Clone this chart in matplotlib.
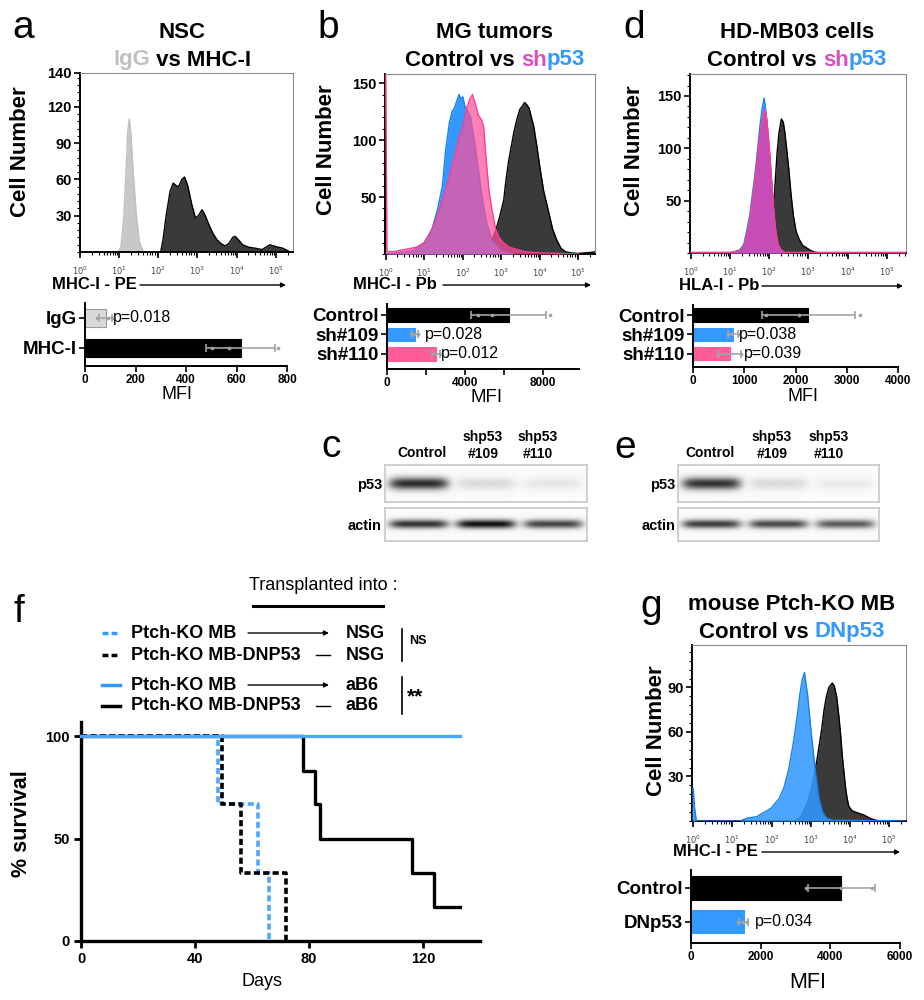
import numpy as np
import matplotlib
matplotlib.use('Agg')
import matplotlib.pyplot as plt
from matplotlib.patches import FancyArrowPatch
from matplotlib.lines import Line2D
from matplotlib.ticker import (FixedLocator, MultipleLocator, LogLocator,
                               FuncFormatter, NullFormatter)

plt.rcParams['font.family'] = ['Liberation Sans', 'DejaVu Sans']

# ---------------------------------------------------------------- data
# flow histograms: (log10 fluorescence, cell number)
a_igg_x = [0.98, 1.05, 1.12, 1.18, 1.22, 1.26, 1.30, 1.36, 1.44, 1.52, 1.62]
a_igg_y = [0, 5, 30, 70, 100, 110, 98, 65, 30, 8, 0]
a_mhc_x = [2.06, 2.12, 2.2, 2.3, 2.38, 2.45, 2.52, 2.6, 2.67, 2.75, 2.85, 2.95, 3.02,
           3.12, 3.2, 3.3, 3.4, 3.5, 3.6, 3.7, 3.8, 3.9, 3.96, 4.05, 4.15, 4.3,
           4.5, 4.65, 4.75, 4.85, 4.95, 5.05, 5.15, 5.25, 5.37]
a_mhc_y = [0, 10, 30, 50, 57, 55, 54, 60, 62, 55, 40, 28, 30, 35, 30, 22, 15, 10, 7,
           5, 7, 12, 13, 10, 6, 4, 3, 2, 4, 6, 5, 4, 3.5, 2, 0]

b_ctrl_x = [2.5, 2.6, 2.75, 2.85, 2.95, 3.06, 3.12, 3.19, 3.26, 3.32, 3.4, 3.48, 3.55,
            3.6, 3.66, 3.72, 3.78, 3.84, 3.92, 4.0, 4.1, 4.22, 4.33, 4.44, 4.55,
            4.66, 4.8, 5.0, 5.35, 5.43]
b_ctrl_y = [0, 4, 12, 20, 32, 47, 65, 82, 95, 106, 118, 127, 130, 133, 131, 128, 120,
            112, 95, 76, 55, 38, 22, 12, 5, 2, 1, 0.5, 1.5, 2]
b_109_x = [0.0, 0.3, 0.7, 1.0, 1.2, 1.35, 1.47, 1.55, 1.65, 1.72, 1.78, 1.85, 1.9,
           1.95, 2.0, 2.05, 2.12, 2.2, 2.3, 2.4, 2.5, 2.6, 2.75, 3.0, 3.3]
b_109_y = [0, 1, 3, 10, 22, 40, 60, 90, 115, 125, 128, 135, 140, 136, 138, 130, 126,
           120, 100, 75, 50, 30, 12, 3, 0]
b_110_x = [0.0, 0.03, 0.2, 0.5, 0.8, 1.0, 1.15, 1.3, 1.45, 1.6, 1.75, 1.9, 2.0, 2.1,
           2.18, 2.25, 2.32, 2.4, 2.48, 2.54, 2.6, 2.68, 2.76, 2.85, 2.95, 3.05,
           3.2, 3.4, 3.6, 4.0, 4.5, 5.0]
b_110_y = [160, 2, 2, 4, 6, 10, 18, 30, 45, 62, 82, 102, 112, 128, 136, 140, 132, 122,
           118, 112, 85, 55, 38, 22, 14, 10, 6, 4, 2, 1, 0.5, 0]

d_ctrl_x = [1.95, 2.02, 2.08, 2.14, 2.2, 2.25, 2.31, 2.36, 2.4, 2.45, 2.5, 2.56, 2.62,
            2.69, 2.78, 2.86, 2.95, 3.03, 3.15, 3.3]
d_ctrl_y = [0, 10, 30, 60, 95, 115, 128, 125, 115, 98, 80, 55, 35, 20, 12, 7, 5, 3, 1, 0]
d_109_x = [1.0, 1.25, 1.35, 1.42, 1.5, 1.55, 1.62, 1.68, 1.72, 1.76, 1.82, 1.87, 1.9,
           1.94, 1.97, 2.02, 2.06, 2.1, 2.14, 2.18, 2.23, 2.3, 2.4]
d_109_y = [0, 3, 8, 20, 35, 50, 70, 90, 105, 120, 138, 148, 140, 125, 112, 90, 70, 48,
           30, 17, 8, 3, 0]
d_110_x = [0.0, 1.0, 1.25, 1.35, 1.42, 1.5, 1.55, 1.62, 1.68, 1.74, 1.8, 1.86, 1.9,
           1.94, 1.98, 2.02, 2.06, 2.1, 2.14, 2.18, 2.23, 2.3, 2.4, 5.5]
d_110_y = [0.6, 0.6, 2, 6, 16, 30, 45, 65, 85, 105, 122, 133, 137, 128, 112, 92, 70,
           48, 30, 17, 8, 3, 0.6, 0.6]

g_ctrl_x = [2.6, 2.75, 2.91, 3.0, 3.08, 3.15, 3.21, 3.28, 3.34, 3.4, 3.46, 3.55, 3.6,
            3.66, 3.72, 3.77, 3.8, 3.85, 3.89, 3.93, 3.97, 4.05, 4.14, 4.25, 4.36,
            4.5, 4.6, 4.75]
g_ctrl_y = [0, 3, 12, 20, 30, 40, 50, 62, 75, 84, 90, 93, 91, 84, 70, 56, 45, 32, 22,
            15, 10, 7, 6, 5, 4, 2, 1, 0]
g_dn_x = [-0.03, 0.0, 0.03, 0.08, 1.2, 1.38, 1.63, 1.75, 1.89, 2.0, 2.06, 2.19, 2.31,
          2.44, 2.57, 2.65, 2.72, 2.78, 2.84, 2.88, 2.92, 2.99, 3.05, 3.12, 3.21,
          3.3, 3.4, 3.55, 5.45]
g_dn_y = [22, 22, 10, 0, 0, 2, 3, 5, 7, 9, 11, 15, 22, 35, 55, 70, 85, 95, 100, 92, 85,
          65, 50, 33, 15, 6, 2, 0.5, 0]

# MFI bar charts
a_cats = ['IgG', 'MHC-I']
a_mean = [82, 617]
a_sd = [25, 136]
a_pts = [[48, 90, 105], [502, 572, 764]]
a_p = ['p=0.018', '']

b_cats = ['Control', 'sh#109', 'sh#110']
b_mean = [6240, 1420, 2500]
b_sd = [1940, 150, 200]
b_pts = [[4670, 5400, 8380], [1250, 1400, 1600], [2300, 2450, 2700]]
b_p = ['', 'p=0.028', 'p=0.012']

d_cats = ['Control', 'sh#109', 'sh#110']
d_mean = [2250, 780, 715]
d_sd = [910, 100, 230]
d_pts = [[1430, 2060, 3260], [680, 760, 900], [480, 620, 930]]
d_p = ['', 'p=0.038', 'p=0.039']

g_cats = ['Control', 'DNp53']
g_mean = [4310, 1510]
g_sd = [960, 120]
g_pts = [[3300, 4320, 5200], [1350, 1480, 1600]]
g_p = ['', 'p=0.034']

# western blots: relative band intensity per lane
blot_lanes = ['Control', 'shp53\n#109', 'shp53\n#110']
c_p53 = [0.85, 0.13, 0.08]
c_actin = [0.82, 0.97, 0.75]
e_p53 = [0.82, 0.13, 0.06]
e_actin = [0.78, 0.74, 0.66]

# Kaplan-Meier survival (days, % survival)
km_ko_nsg_t = [0, 48, 62, 66]
km_ko_nsg_s = [100, 66.7, 33.3, 0]
km_dn_nsg_t = [0, 49.5, 56, 72]
km_dn_nsg_s = [100, 66.7, 33.3, 0]
km_ko_ab6_t = [0, 133]
km_ko_ab6_s = [100, 100]
km_dn_ab6_t = [0, 78, 82, 84, 116, 124, 133]
km_dn_ab6_s = [100, 83.3, 66.7, 50, 33.3, 16.7, 16.7]

# ---------------------------------------------------------------- styling
BLUE = '#3399ff'
PINK = '#ff4f9a'
PINKBAR = '#ff5c99'
MAG = '#d94fbf'
DARK = '#3a3a3a'
LGRAY = '#c8c8c8'
EGRAY = '#a3a3a3'

W, H = 924, 1000
fig = plt.figure(figsize=(W / 100, H / 100), dpi=100)


def fx(x):
    return x / W


def fy(y):
    return 1 - y / H


def add_ax(l, t, r, b):
    return fig.add_axes([l / W, 1 - b / H, (r - l) / W, (b - t) / H])


def ftext(x, y, s, **kw):
    return fig.text(fx(x), fy(y), s, **kw)


def hline_arrow(x0, x1, y, head=True, lw=1.0):
    fig.add_artist(FancyArrowPatch((fx(x0), fy(y)), (fx(x1), fy(y)),
                                   transform=fig.transFigure,
                                   arrowstyle='-|>' if head else '-',
                                   mutation_scale=7, lw=lw, color='black',
                                   shrinkA=0, shrinkB=0))


def multicolor(xc, y, parts, **kw):
    r = fig.canvas.get_renderer()
    ts = [ftext(0, y, s, color=c, ha='left', va='center', **kw) for s, c in parts]
    ws = [t.get_window_extent(renderer=r).width for t in ts]
    x = xc - sum(ws) / 2
    for t, w in zip(ts, ws):
        t.set_x(fx(x))
        x += w


def letter(x, y, s):
    ftext(x, y, s, fontsize=28, ha='left', va='baseline')


def hist_ax(l, t, r, b, xlo, xhi, ytop, yticks, ylabels, yminor):
    ax = add_ax(l, t, r, b)
    ax.set_xscale('log')
    ax.set_xlim(10 ** xlo, 10 ** xhi)
    ax.set_ylim(0, ytop)
    ax.yaxis.set_major_locator(FixedLocator(yticks))
    ax.set_yticklabels(ylabels, fontsize=10.5, fontweight='bold')
    ax.yaxis.set_minor_locator(MultipleLocator(yminor))
    ax.xaxis.set_major_locator(LogLocator(base=10, numticks=12))
    ax.xaxis.set_minor_locator(LogLocator(base=10, subs=np.arange(2, 10), numticks=12))
    ax.xaxis.set_minor_formatter(NullFormatter())
    ax.xaxis.set_major_formatter(FuncFormatter(lambda v, p: r'$10^{%d}$' % round(np.log10(v))))
    ax.tick_params(axis='x', which='major', labelsize=6, labelcolor='#444', length=4,
                   width=1.2, pad=5)
    ax.tick_params(axis='x', which='minor', length=2.5, width=0.8)
    ax.tick_params(axis='y', which='major', length=4, width=1.2, pad=2)
    ax.tick_params(axis='y', which='minor', length=2, width=0.8)
    for s in ['top', 'right']:
        ax.spines[s].set_color('#8c8c8c')
        ax.spines[s].set_linewidth(0.8)
    for s in ['left', 'bottom']:
        ax.spines[s].set_linewidth(1.4)
    return ax


def fill(ax, lx, ly, fc, ec, alpha=1.0, z=2):
    x = 10 ** np.asarray(lx, float)
    y = np.asarray(ly, float)
    ax.fill_between(x, y, 0, color=fc, alpha=alpha, lw=0, zorder=z)
    ax.plot(x, y, color=ec, lw=1.0, zorder=z + 0.1)


def bar_ax(l, t, r, b, cats, mean, sd, pts, colors, xmax, major, minor, pvals, ppos,
           hgt, ylim):
    ax = add_ax(l, t, r, b)
    yy = np.arange(len(cats))
    for i in range(len(cats)):
        ec = '#9a9a9a' if colors[i] == '#d9d9d9' else colors[i]
        ax.barh(yy[i], mean[i], height=hgt, color=colors[i], edgecolor=ec, lw=0.8,
                zorder=2)
        ax.errorbar(mean[i], yy[i], xerr=sd[i], fmt='none', ecolor=EGRAY,
                    elinewidth=1.2, capsize=3, capthick=1.2, zorder=3)
        ax.scatter(pts[i], [yy[i]] * len(pts[i]), s=7, color=EGRAY, zorder=4, lw=0)
        if pvals[i]:
            ax.text(ppos[i], yy[i], pvals[i], fontsize=11.5, va='center', ha='left',
                    zorder=5)
    ax.set_xlim(0, xmax)
    ax.set_ylim(*ylim)
    ax.set_yticks(yy)
    ax.set_yticklabels(cats, fontsize=13.5, fontweight='bold')
    ax.set_xticks(major)
    ax.set_xticklabels([str(v) for v in major], fontsize=8.5, fontweight='bold')
    ax.set_xticks(minor, minor=True)
    ax.tick_params(axis='both', which='both', length=4, width=1.2, pad=2)
    for s in ['top', 'right']:
        ax.spines[s].set_visible(False)
    for s in ['left', 'bottom']:
        ax.spines[s].set_linewidth(1.4)
    return ax


def blot(l, t, r, b, intens, thick):
    ax = add_ax(l, t, r, b)
    nx, ny = 400, 80
    X, Y = np.meshgrid(np.linspace(0, 1, nx), np.linspace(-1, 1, ny))
    n = len(intens)
    img = np.full(X.shape, 0.02)
    for i, v in enumerate(intens):
        c = (i + 0.5) / n
        img += v * np.exp(-((X - c) / (0.44 / n)) ** 6) * np.exp(-(Y / thick) ** 2)
    ax.imshow(img, cmap='gray_r', vmin=0, vmax=1.05, aspect='auto',
              extent=[0, 1, 0, 1], interpolation='bilinear')
    ax.set_xticks([])
    ax.set_yticks([])
    for s in ax.spines.values():
        s.set_color('#c8c8c8')
        s.set_linewidth(1.2)
    return ax


# ================================================================ panel a
letter(12, 38, 'a')
ftext(182, 33, 'NSC', fontsize=16, fontweight='bold', ha='center', va='center')
multicolor(182, 60, [('IgG', '#c0c0c0'), (' vs MHC-I', 'black')], fontsize=16,
           fontweight='bold')
ax = hist_ax(80, 73, 293, 252, 0.0, 5.44, 148, [30, 60, 90, 120, 148],
             ['30', '60', '90', '120', '140'], 6)
fill(ax, a_igg_x, a_igg_y, LGRAY, '#c0c0c0')
fill(ax, a_mhc_x, a_mhc_y, DARK, 'black')
ftext(21, 152, 'Cell Number', fontsize=16, fontweight='bold', rotation=90,
      ha='center', va='center')
ftext(52, 285, 'MHC-I - PE', fontsize=12, fontweight='bold', ha='left', va='center')
hline_arrow(140, 286, 285)
bar_ax(85, 303, 287, 366, a_cats, a_mean, a_sd, a_pts, ['#d9d9d9', 'black'], 800,
       [0, 200, 400, 600, 800], [], a_p, [111, 0], 0.6, (1.6, -0.5))
ftext(177, 399, 'MFI', fontsize=13, ha='center', va='baseline')

# ================================================================ panel b
letter(317, 38, 'b')
ftext(495, 33, 'MG tumors', fontsize=16, fontweight='bold', ha='center', va='center')
multicolor(495, 60, [('Control vs ', 'black'), ('sh', MAG), ('p53', BLUE)],
           fontsize=16, fontweight='bold')
ax = hist_ax(385, 74, 595, 254, -0.02, 5.43, 158, [50, 100, 150],
             ['50', '100', '150'], 10)
fill(ax, b_ctrl_x, b_ctrl_y, DARK, 'black', z=2)
fill(ax, b_109_x, b_109_y, BLUE, '#1a7ff0', z=3)
fill(ax, b_110_x, b_110_y, PINK, '#ff3d8f', alpha=0.72, z=4)
ftext(327, 150, 'Cell Number', fontsize=16, fontweight='bold', rotation=90,
      ha='center', va='center')
ftext(353, 285, 'MHC-I - Pb', fontsize=12, fontweight='bold', ha='left', va='center')
hline_arrow(443, 591, 285)
bar_ax(387, 304, 579, 369, b_cats, b_mean, b_sd, b_pts, ['black', BLUE, PINKBAR],
       9850, [0, 4000, 8000], [2000, 6000], b_p, [0, 1950, 2770], 0.68,
       (2.77, -0.56))
ftext(487, 402, 'MFI', fontsize=13.5, ha='center', va='baseline')

# ================================================================ panel d
letter(623, 38, 'd')
ftext(797, 33, 'HD-MB03 cells', fontsize=16, fontweight='bold', ha='center',
      va='center')
multicolor(797, 60, [('Control vs ', 'black'), ('sh', MAG), ('p53', BLUE)],
           fontsize=16, fontweight='bold')
ax = hist_ax(690, 74, 906, 253, -0.02, 5.49, 171, [50, 100, 150],
             ['50', '100', '150'], 10)
fill(ax, d_ctrl_x, d_ctrl_y, DARK, 'black', z=2)
fill(ax, d_109_x, d_109_y, BLUE, '#1a7ff0', z=3)
fill(ax, d_110_x, d_110_y, '#e040a8', '#ff3d8f', alpha=0.85, z=4)
ftext(635, 151, 'Cell Number', fontsize=16, fontweight='bold', rotation=90,
      ha='center', va='center')
ftext(679, 286, 'HLA-I - Pb', fontsize=12, fontweight='bold', ha='left', va='center')
hline_arrow(762, 903, 286)
bar_ax(693, 305, 898, 367, d_cats, d_mean, d_sd, d_pts, ['black', BLUE, PINKBAR],
       4000, [0, 1000, 2000, 3000, 4000], [], d_p, [0, 898, 995], 0.68,
       (2.68, -0.52))
ftext(803, 401, 'MFI', fontsize=13, ha='center', va='baseline')

# ================================================================ panels c / e
letter(321, 457, 'c')
letter(614, 458, 'e')
for (l, r, xs, lab_x, p53v, actv) in [
        (385, 587, [422, 483, 538], 382, c_p53, c_actin),
        (678, 879, [710, 772, 829], 675, e_p53, e_actin)]:
    blot(l, 465, r, 502, p53v, 0.33)
    blot(l, 508, r, 541, actv, 0.26)
    for xc, lab in zip(xs, blot_lanes):
        lines = lab.split('\n')
        if len(lines) == 1:
            ftext(xc, 453, lines[0], fontsize=10, fontweight='bold', ha='center',
                  va='center')
        else:
            ftext(xc, 437, lines[0], fontsize=10, fontweight='bold', ha='center',
                  va='center')
            ftext(xc, 454, lines[1], fontsize=10, fontweight='bold', ha='center',
                  va='center')
    ftext(lab_x, 485, 'p53', fontsize=10.5, fontweight='bold', ha='right',
          va='center')
    ftext(lab_x, 526, 'actin', fontsize=10.5, fontweight='bold', ha='right',
          va='center')

# ================================================================ panel f
letter(13, 622, 'f')
ftext(323, 585, 'Transplanted into :', fontsize=13, ha='center', va='center')
fig.add_artist(Line2D([fx(253), fx(383)], [fy(606)] * 2, transform=fig.transFigure,
                      color='black', lw=2.2))
legend_rows = [
    (633, BLUE, (0, (1.7, 0.9)), 'Ptch-KO MB', 'arrow', 'NSG'),
    (655, 'black', (0, (1.7, 0.9)), 'Ptch-KO MB-DNP53', 'dash', 'NSG'),
    (685, BLUE, '-', 'Ptch-KO MB', 'arrow', 'aB6'),
    (706, 'black', '-', 'Ptch-KO MB-DNP53', 'dash', 'aB6'),
]
for y, col, ls, name, kind, host in legend_rows:
    fig.add_artist(Line2D([fx(102), fx(120)], [fy(y)] * 2, transform=fig.transFigure,
                          color=col, lw=2.5, linestyle=ls))
    ftext(131, y, name, fontsize=13, fontweight='bold', ha='left', va='center')
    if kind == 'arrow':
        hline_arrow(248, 329, y)
    else:
        fig.add_artist(Line2D([fx(316), fx(330)], [fy(y)] * 2,
                              transform=fig.transFigure, color='black', lw=1.0))
    ftext(346, y, host, fontsize=13, fontweight='bold', ha='left', va='center')
fig.add_artist(Line2D([fx(402), fx(402)], [fy(629), fy(661)], transform=fig.transFigure,
                      color='black', lw=1.2))
ftext(409, 641, 'NS', fontsize=9, fontweight='bold', ha='left', va='center')
fig.add_artist(Line2D([fx(402), fx(402)], [fy(677), fy(714)], transform=fig.transFigure,
                      color='black', lw=1.2))
ftext(407, 697, '**', fontsize=15, fontweight='bold', ha='left', va='center')

axf = add_ax(81, 722, 480, 941)
dash = (0, (1.7, 0.9))
axf.step(km_ko_nsg_t, km_ko_nsg_s, where='post', color='#4da6ff', lw=2.6,
         linestyle=dash, clip_on=False, zorder=3)
axf.step(km_dn_nsg_t, km_dn_nsg_s, where='post', color='black', lw=2.6,
         linestyle=dash, clip_on=False, zorder=3)
axf.step(km_dn_ab6_t, km_dn_ab6_s, where='post', color='black', lw=2.4,
         clip_on=False, zorder=4)
axf.step(km_ko_ab6_t, km_ko_ab6_s, where='post', color='#4da6ff', lw=2.4,
         clip_on=False, zorder=5)
axf.set_xlim(0, 140)
axf.set_ylim(0, 107)
axf.set_xticks([0, 40, 80, 120])
axf.set_yticks([0, 50, 100])
axf.set_xticklabels(['0', '40', '80', '120'], fontsize=10.5, fontweight='bold')
axf.set_yticklabels(['0', '50', '100'], fontsize=10.5, fontweight='bold')
axf.tick_params(length=5, width=2, pad=3)
for s in ['top', 'right']:
    axf.spines[s].set_visible(False)
for s in ['left', 'bottom']:
    axf.spines[s].set_linewidth(2.4)
ftext(262, 982, 'Days', fontsize=13, ha='center', va='center')
ftext(22, 824, '% survival', fontsize=15.5, fontweight='bold', rotation=90,
      ha='center', va='center')

# ================================================================ panel g
letter(640, 617, 'g')
ftext(792, 605, 'mouse Ptch-KO MB', fontsize=16, fontweight='bold', ha='center',
      va='center')
multicolor(792, 632, [('Control vs ', 'black'), ('DNp53', BLUE)], fontsize=16,
           fontweight='bold')
ax = hist_ax(692, 645, 906, 821, -0.03, 5.43, 118.6, [30, 60, 90],
             ['30', '60', '90'], 6)
fill(ax, g_ctrl_x, g_ctrl_y, DARK, 'black', z=2)
fill(ax, g_dn_x, g_dn_y, BLUE, '#1a7ff0', alpha=0.88, z=3)
ftext(657, 731, 'Cell Number', fontsize=16, fontweight='bold', rotation=90,
      ha='center', va='center')
ftext(673, 852, 'MHC-I - PE', fontsize=12, fontweight='bold', ha='left', va='center')
hline_arrow(762, 900, 852)
bar_ax(691, 870, 900, 943, g_cats, g_mean, g_sd, g_pts, ['black', BLUE], 6000,
       [0, 2000, 4000, 6000], [], g_p, [0, 1840], 0.68, (1.62, -0.53))
ftext(808, 988, 'MFI', fontsize=15.5, ha='center', va='baseline')

fig.savefig('out.png', dpi=100)
